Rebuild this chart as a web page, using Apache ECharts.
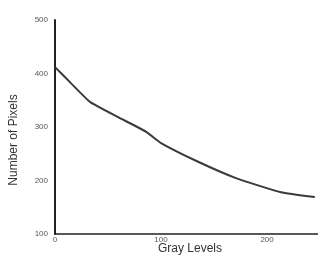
<!DOCTYPE html>
<html><head><meta charset="utf-8">
<script src="https://cdn.jsdelivr.net/npm/echarts@6/dist/echarts.min.js"></script>
<style>html,body{margin:0;padding:0;background:#fff}#c{width:318px;height:265px}</style>
</head><body><div id="c"></div>
<script>
var grayLevels = [0, 15, 33, 59, 86, 100, 135, 170, 213, 245];
var pixelCounts = [412, 382, 347, 319, 291, 270, 235, 205, 178, 169];
var xTicks = [0, 100, 200];
var yTicks = [100, 200, 300, 400, 500];
var xTitle = 'Gray Levels';
var yTitle = 'Number of Pixels';

var data = grayLevels.map(function(g, i){ return [g, pixelCounts[i]]; });
var chart = echarts.init(document.getElementById('c'), null, {renderer:'canvas'});
chart.setOption({
  animation:false,
  backgroundColor:'#fff',
  grid:{left:55, right:0, top:20, bottom:31, containLabel:false},
  xAxis:{type:'value', min:0, max:248, interval:100,
    axisLine:{show:true, lineStyle:{color:'#222', width:1.5}},
    axisTick:{show:false}, splitLine:{show:false},
    axisLabel:{color:'#555', fontSize:8, margin:2, showMaxLabel:false,
      fontFamily:'Liberation Sans',
      formatter:function(v){ return xTicks.indexOf(v)>=0 ? String(v) : ''; }}
  },
  yAxis:{type:'value', min:100, max:500, interval:100,
    axisLine:{show:true, onZero:false, lineStyle:{color:'#222', width:2}},
    axisTick:{show:false}, splitLine:{show:false},
    axisLabel:{color:'#555', fontSize:8, margin:7, fontFamily:'Liberation Sans',
      formatter:function(v){ return yTicks.indexOf(v)>=0 ? String(v) : ''; }}
  },
  graphic:[
    {type:'text', x:190, y:249, style:{text:xTitle, align:'center', verticalAlign:'middle', font:'12px "Liberation Sans"', fill:'#333'}},
    {type:'text', rotation:Math.PI/2, x:14, y:140, style:{text:yTitle, align:'center', verticalAlign:'middle', font:'12px "Liberation Sans"', fill:'#333'}}
  ],
  series:[{type:'line', data:data, showSymbol:false, smooth:0.15,
    lineStyle:{color:'#3a3a3a', width:2}}]
});
</script></body></html>
